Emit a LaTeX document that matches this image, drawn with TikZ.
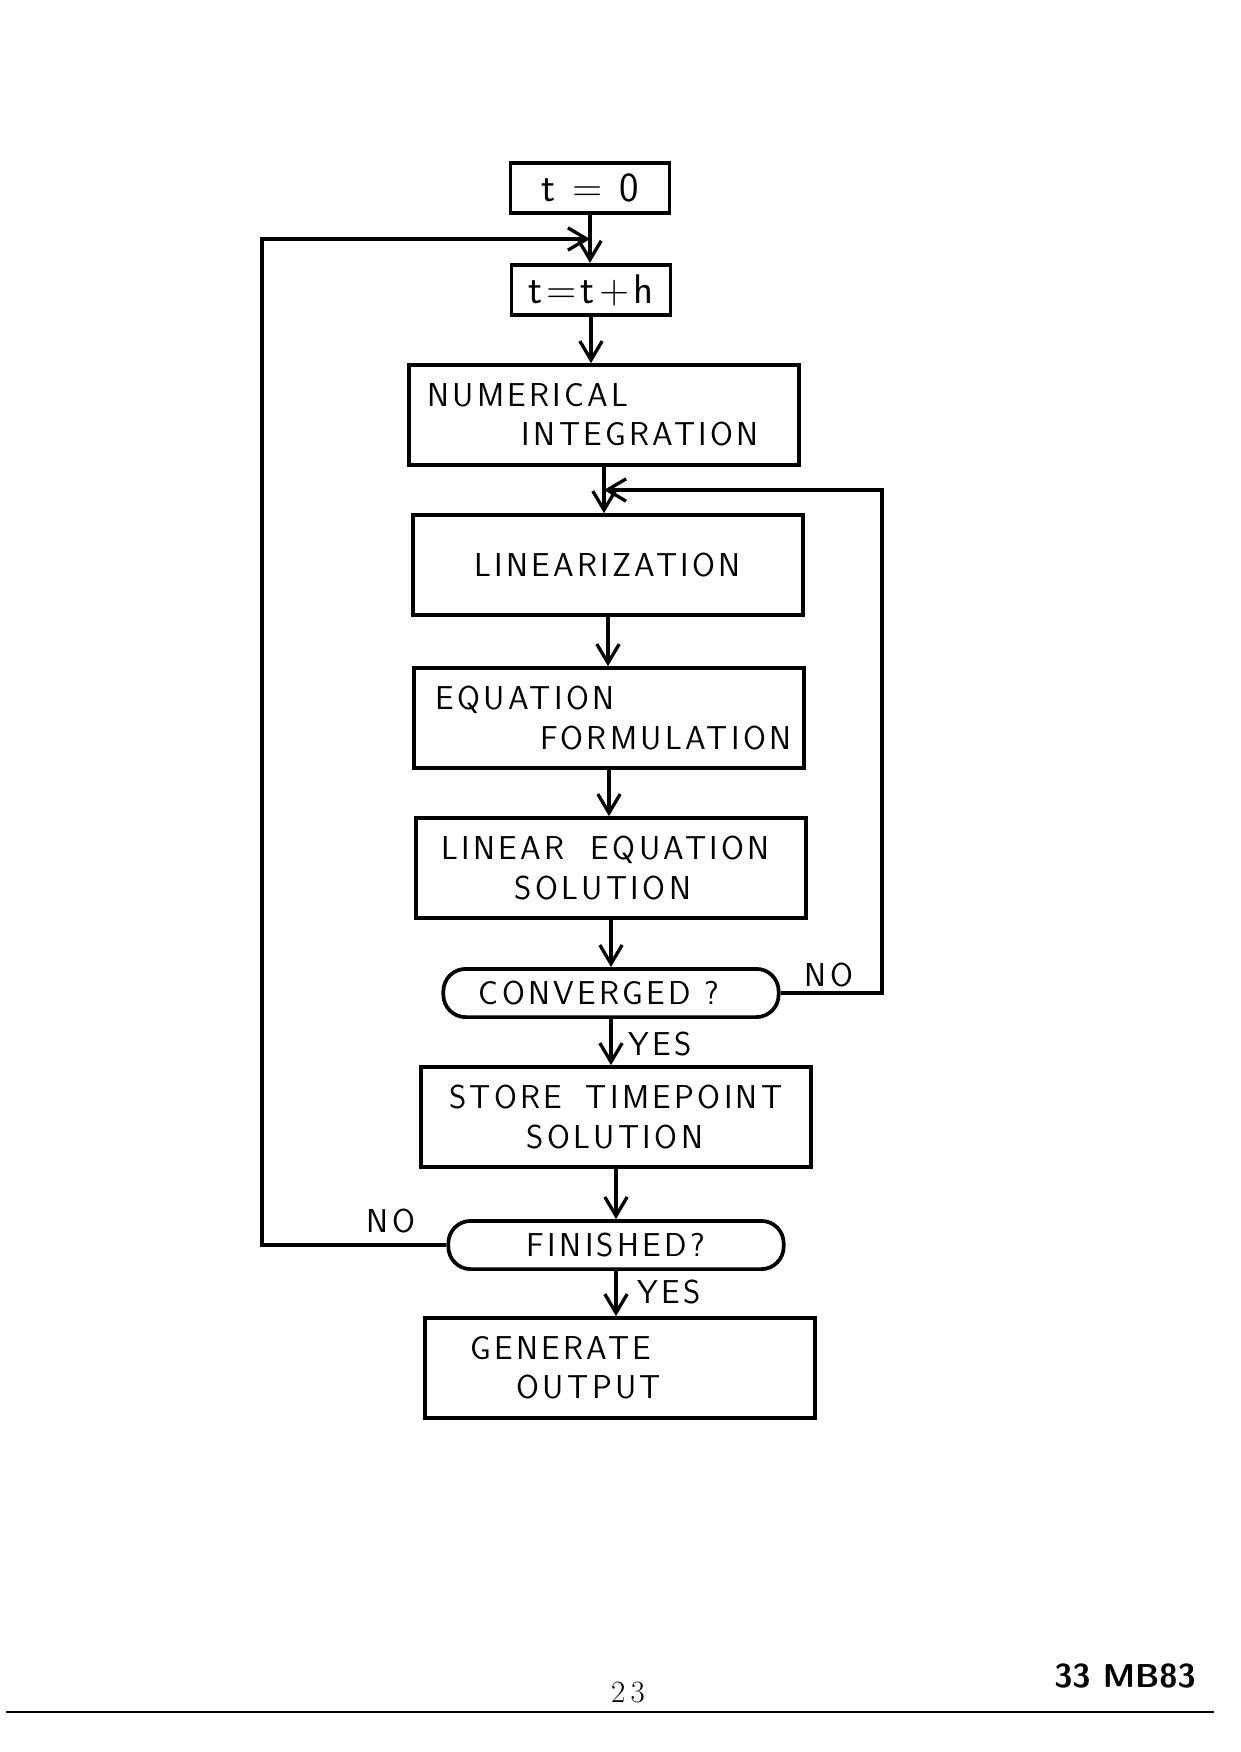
\documentclass[tikz,border=0pt]{standalone}
\usepackage{fontspec}
\setsansfont{Latin Modern Sans}[LetterSpace=10]
\newfontfamily\siglafont{Latin Modern Sans}
\usetikzlibrary{arrows.meta,calc}
\begin{document}
\begin{tikzpicture}[x=0.17mm, y=-0.17mm,
    blocco/.style={draw, line width=1.8pt, inner xsep=0pt, text width=66.3mm, minimum height=17mm, align=left, font=\fontsize{16}{19}\selectfont\sffamily},
    piccolo/.style={draw, line width=1.8pt, minimum width=27mm, minimum height=8.6mm, font=\fontsize{20}{24}\selectfont\sffamily},
    domanda/.style={draw, line width=1.8pt, rounded corners=3.8mm, minimum width=57mm, minimum height=8.2mm, font=\fontsize{16}{20}\selectfont\sffamily},
    etichetta/.style={font=\fontsize{16}{20}\selectfont\sffamily},
    freccia/.style={line width=1.6pt, -{Straight Barb[length=3.2mm,width=3.8mm]}}]
    \useasboundingbox (0,0) rectangle (1241,1752);

    % Blocchi
    \node[piccolo] (t0) at (590,188) {t = 0};
    \node[piccolo] (tth) at (591,290) {t=t+h};
    \node[blocco] (num) at (604,415) {\hspace*{3.1mm}NUMERICAL\\\hspace*{19.2mm}INTEGRATION};
    \node[blocco] (lin) at (608,565) {\hspace*{10.4mm}LINEARIZATION};
    \node[blocco] (eq) at (609,718) {\hspace*{3.7mm}EQUATION\\\hspace*{21.5mm}FORMULATION};
    \node[blocco] (les) at (611,868) {\hspace*{4.3mm}LINEAR\hspace{4.5mm}EQUATION\\\hspace*{16.8mm}SOLUTION};
    \node[domanda] (conv) at (611,993) {CONVERGED ?\hspace*{4mm}};
    \node[blocco] (store) at (616,1117) {\hspace*{4.8mm}STORE\hspace{4mm}TIMEPOINT\\\hspace*{18mm}SOLUTION};
    \node[domanda] (fin) at (616,1245) {FINISHED?};
    \node[blocco] (gen) at (620,1368) {\hspace*{7.7mm}GENERATE\\\hspace*{15.6mm}OUTPUT};

    % Etichette
    \node[etichetta] (noc) at (829,975) {NO};
    \node[etichetta] (yesc) at (660,1044) {YES};
    \node[etichetta] (nof) at (391,1221) {NO};
    \node[etichetta] (yesf) at (669,1292) {YES};

    % Frecce
    \draw[freccia] (t0.south) -- (t0.south |- tth.north);
    \draw[freccia] (tth.south) -- (tth.south |- num.north);
    \draw[freccia] (num.south) -- (num.south |- lin.north);
    \draw[freccia] (lin.south) -- (lin.south |- eq.north);
    \draw[freccia] (eq.south) -- (eq.south |- les.north);
    \draw[freccia] (les.south) -- (les.south |- conv.north);
    \draw[freccia] (conv.south) -- (conv.south |- store.north);
    \draw[freccia] (store.south) -- (store.south |- fin.north);
    \draw[freccia] (fin.south) -- (fin.south |- gen.north);

    % Cicli
    \coordinate (j1) at ($(t0.south)!0.5!(t0.south |- tth.north)$);
    \coordinate (j2) at ($(num.south)!0.5!(num.south |- lin.north)$);
    \coordinate (sx) at (262,0);
    \coordinate (dx) at (882,0);
    \draw[freccia] (fin.west) -- (fin.west -| sx) |- (j1);
    \draw[freccia] (conv.east) -- (conv.east -| dx) |- (j2);

    % Pagina
    \node[font=\fontsize{15}{18}\selectfont] (pag) at (628,1692) {2\,3};
    \node[font=\fontsize{16}{18}\selectfont\siglafont\bfseries] (sigla) at (1125,1676) {33 MB83};
    \draw[line width=1.3pt] (6,1712) -- (1214,1712);

\end{tikzpicture}
\end{document}
